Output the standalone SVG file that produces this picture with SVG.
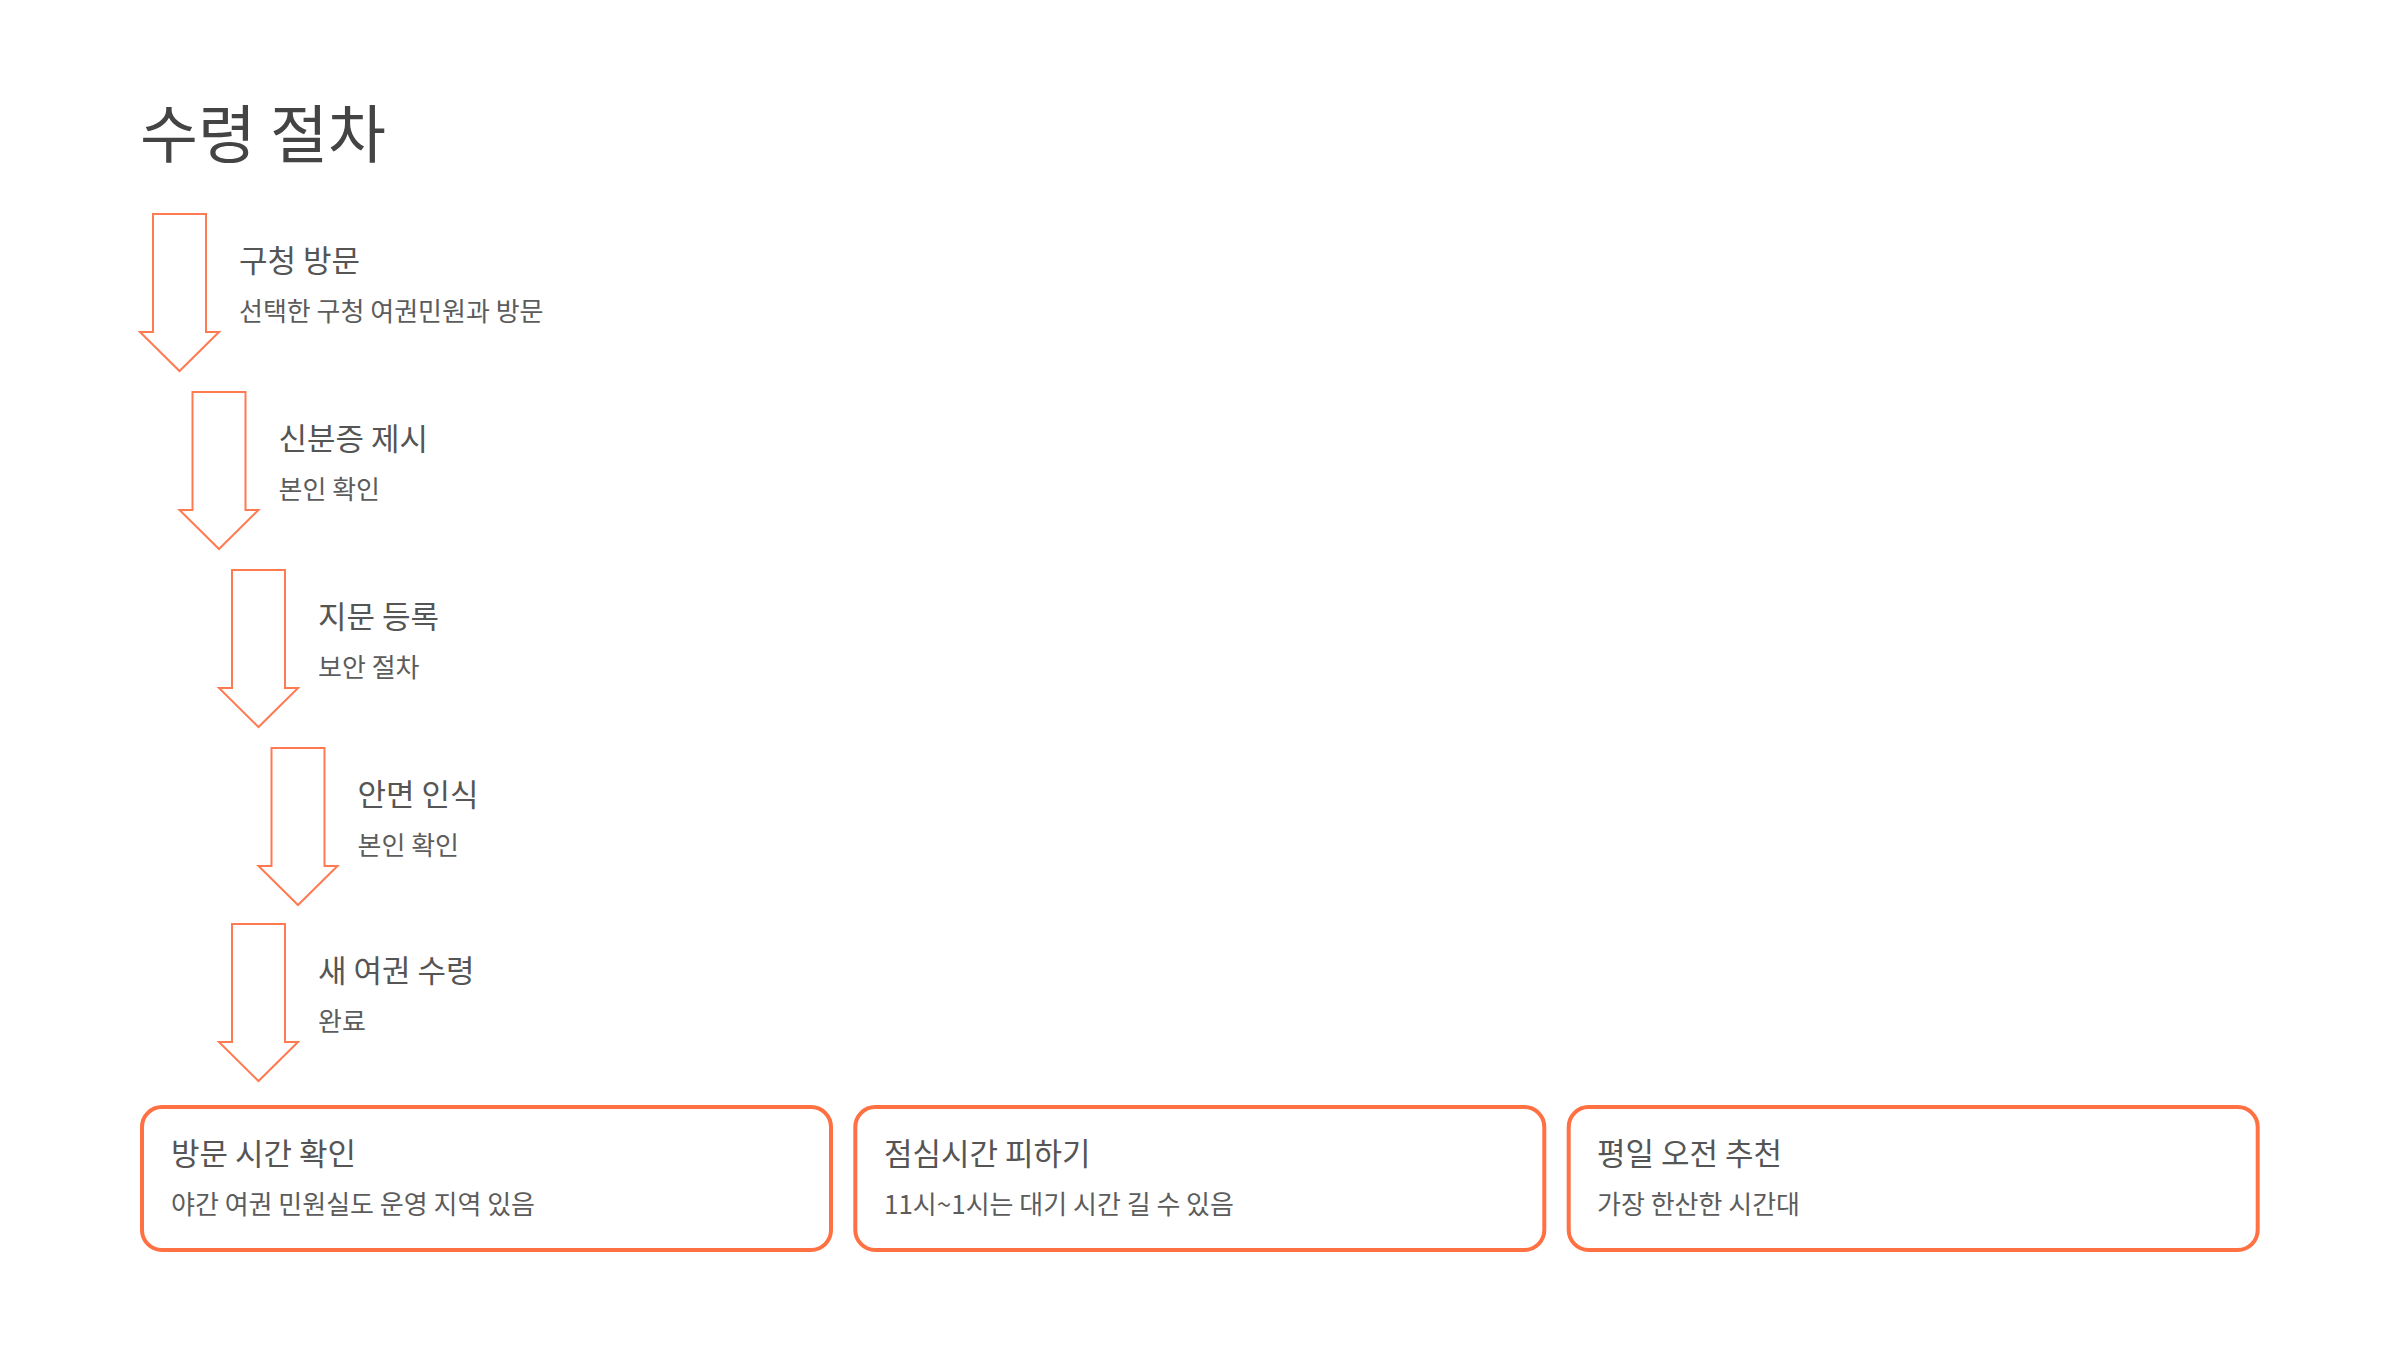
<svg xmlns="http://www.w3.org/2000/svg" width="2400" height="1350" viewBox="0 0 2400 1350">
<style>
text{font-family:"Noto Sans CJK KR","Noto Sans",sans-serif;}
.title{font-size:63px;fill:#444;font-weight:400;}
.lbl{font-size:31px;fill:#555;}
.sub{font-size:26px;fill:#5c5c5c;}
.arrow{fill:#fff;stroke:#FF7A50;stroke-width:2;stroke-linejoin:miter;}
.box{fill:#fff;stroke:#FF7043;stroke-width:4;}
</style>
<defs>
<path id="arr" d="M0,0 H53 V118 H66 L26.5,157 L-13,118 H0 Z"/>
</defs>
<rect width="2400" height="1350" fill="#fff"/>
<text class="title" x="140" y="157">수령 절차</text>
<g id="connectors">
<use href="#arr" class="arrow" x="153" y="214"/>
<use href="#arr" class="arrow" x="192.5" y="392"/>
<use href="#arr" class="arrow" x="232" y="570"/>
<use href="#arr" class="arrow" x="271.5" y="748"/>
<use href="#arr" class="arrow" x="232" y="924"/>
</g>
<g id="step1"><text class="lbl" x="239" y="272">구청 방문</text><text class="sub" x="239" y="321">선택한 구청 여권민원과 방문</text></g>
<g id="step2"><text class="lbl" x="278.5" y="450">신분증 제시</text><text class="sub" x="278.5" y="499">본인 확인</text></g>
<g id="step3"><text class="lbl" x="318" y="628">지문 등록</text><text class="sub" x="318" y="677">보안 절차</text></g>
<g id="step4"><text class="lbl" x="357.5" y="806">안면 인식</text><text class="sub" x="357.5" y="855">본인 확인</text></g>
<g id="step5"><text class="lbl" x="318" y="982">새 여권 수령</text><text class="sub" x="318" y="1031">완료</text></g>
<g id="box1"><rect class="box" x="142" y="1107" width="689" height="143" rx="20"/><text class="lbl" x="171" y="1165">방문 시간 확인</text><text class="sub" x="171" y="1214">야간 여권 민원실도 운영 지역 있음</text></g>
<g id="box2"><rect class="box" x="855.3" y="1107" width="689" height="143" rx="20"/><text class="lbl" x="884" y="1165">점심시간 피하기</text><text class="sub" x="884" y="1214">11시~1시는 대기 시간 길 수 있음</text></g>
<g id="box3"><rect class="box" x="1568.7" y="1107" width="689" height="143" rx="20"/><text class="lbl" x="1597" y="1165">평일 오전 추천</text><text class="sub" x="1597" y="1214">가장 한산한 시간대</text></g>
</svg>
